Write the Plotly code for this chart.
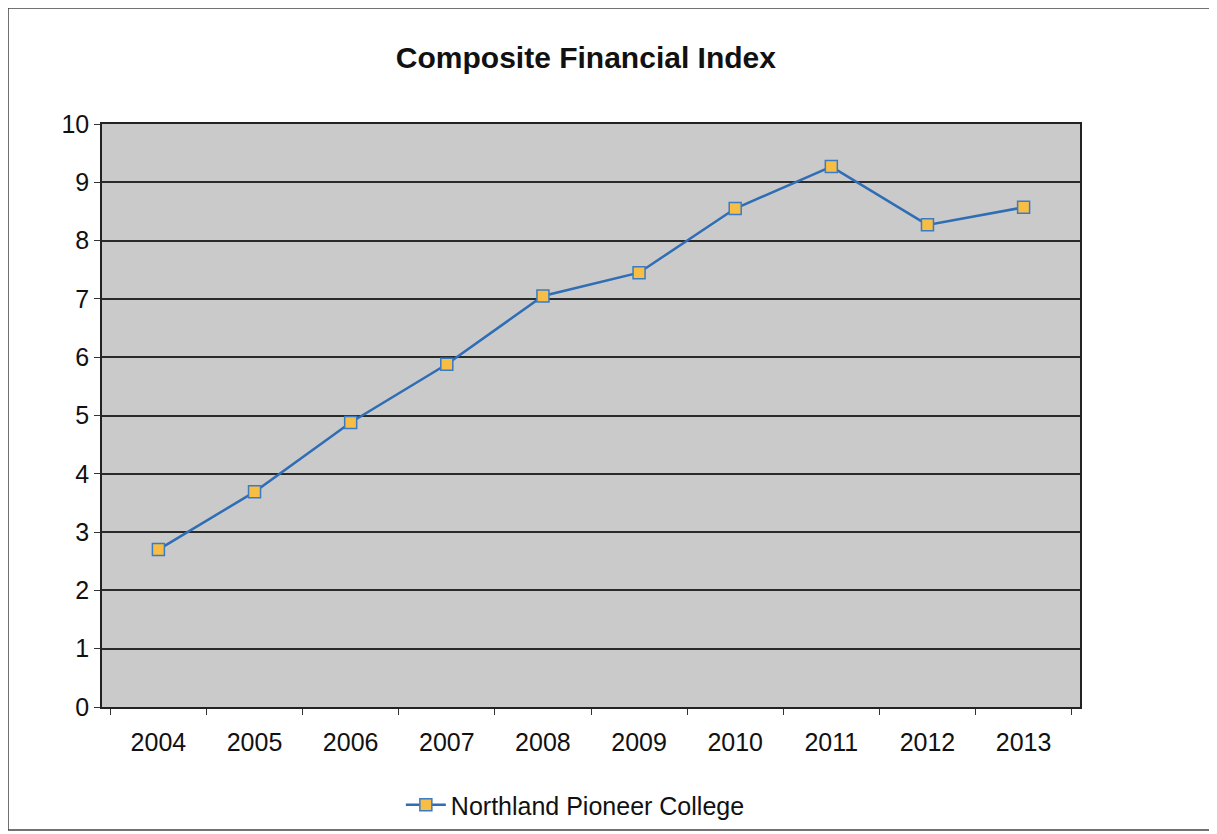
import plotly.graph_objects as go

years = ["2004", "2005", "2006", "2007", "2008", "2009", "2010", "2011", "2012", "2013"]
cfi_values = [2.7, 3.69, 4.88, 5.88, 7.05, 7.45, 8.55, 9.27, 8.27, 8.57]
series_name = "Northland Pioneer College"
y_ticks = list(range(0, 11))

fig = go.Figure()
fig.add_trace(go.Scatter(
    x=years, y=cfi_values, name=series_name, mode="lines+markers",
    line=dict(color="#2f6db5", width=2.5),
    marker=dict(symbol="square", size=12, color="#f7bd45",
                line=dict(color="#3a7cc4", width=1.5)),
))

fig.update_layout(
    width=1209, height=826,
    margin=dict(l=94, r=137, t=116, b=127, autoexpand=False),
    paper_bgcolor="white",
    plot_bgcolor="#cacaca",
    font=dict(family="Liberation Sans, Arial, sans-serif", color="#111111", size=24),
    title=dict(text="<b>Composite Financial Index</b>", x=0.478, xanchor="center",
               y=0.94, yanchor="middle", font=dict(size=30)),
    showlegend=True,
    legend=dict(orientation="h", x=0.484, xanchor="center",
                yref="container", y=0.035, yanchor="middle",
                font=dict(size=25), bgcolor="rgba(0,0,0,0)", itemwidth=40),
    xaxis=dict(type="category", tickson="boundaries", ticks="outside", ticklen=6,
               tickcolor="#333", showgrid=False, showline=True, linecolor="#222",
               linewidth=1.5, mirror=True, tickfont=dict(size=25),
               ticklabelstandoff=12, automargin=False),
    yaxis=dict(range=[0, 10], tickvals=y_ticks, ticks="outside", ticklen=6,
               tickcolor="#333", showgrid=True, gridcolor="#2a2a2a", gridwidth=1.5,
               showline=True, linecolor="#222", linewidth=1.5, mirror=True,
               zeroline=False, tickfont=dict(size=25), automargin=False),
    shapes=[dict(type="rect", xref="paper", yref="paper",
                 x0=-0.0961, x1=1.1329, y0=-0.211, y1=1.199,
                 line=dict(color="#444", width=1.5), layer="below")],
)

fig.write_html("out.html")
